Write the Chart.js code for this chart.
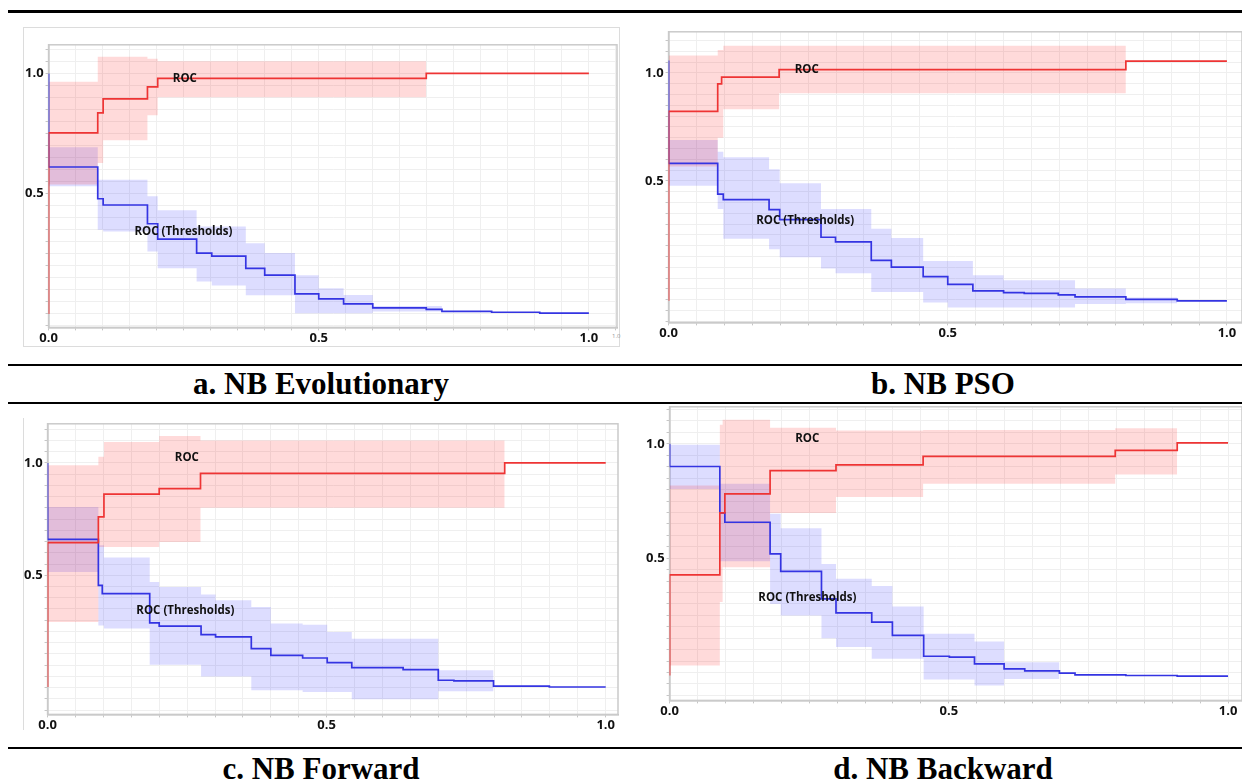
<!DOCTYPE html>
<html>
<head>
<meta charset="utf-8">
<script src="https://cdn.jsdelivr.net/npm/chart.js@4/dist/chart.umd.min.js"></script>
<style>
html,body{margin:0;padding:0;background:#fff;}
body{position:relative;width:1242px;height:784px;overflow:hidden;}
.hl{position:absolute;background:#000;}
.cap{position:absolute;font-family:"Liberation Serif","Times New Roman",serif;font-weight:bold;font-size:31px;line-height:31px;white-space:nowrap;transform:translateX(-50%);color:#000;}
canvas{position:absolute;}
.frame{position:absolute;border:1.5px solid #dcdcdc;box-sizing:border-box;}
.tiny{position:absolute;font-family:"Open Sans",sans-serif;font-size:6px;color:#999;}
</style>
</head>
<body>
<div class="hl" style="left:8px;top:10px;width:1234px;height:2.5px"></div>
<div class="hl" style="left:8px;top:363.5px;width:1234px;height:2.7px"></div>
<div class="hl" style="left:8px;top:402px;width:1234px;height:2.2px"></div>
<div class="hl" style="left:8px;top:747px;width:1234px;height:2.4px"></div>

<div class="frame" style="left:22.5px;top:26.5px;width:597px;height:320.5px"></div>
<div style="position:absolute;left:22.5px;top:418px;width:1.5px;height:312px;background:#dcdcdc"></div>
<div class="tiny" style="left:612px;top:332px">1.0</div>

<div class="cap" style="left:321px;top:367.5px">a. NB Evolutionary</div>
<div class="cap" style="left:943px;top:367.5px">b. NB PSO</div>
<div class="cap" style="left:321px;top:753px">c. NB Forward</div>
<div class="cap" style="left:943px;top:753px">d. NB Backward</div>

<script>
// ---------- tick labels ----------
const xTickValues = [0, 0.5, 1.0];
const xTickLabels = ['0.0', '0.5', '1.0'];
const yTickValues = [0.5, 1.0];
const yTickLabels = ['0.5', '1.0'];
const curveLabels = ['ROC', 'ROC (Thresholds)'];

// ---------- a. NB Evolutionary ----------
const aRocX = [0, 0, 0.091, 0.101, 0.183, 0.202, 0.699, 1.0];
const aRocY = [0.0, 0.753, 0.836, 0.894, 0.944, 0.979, 1.0, 1.0];
const aThrX = [0, 0, 0.091, 0.101, 0.183, 0.202, 0.274, 0.302, 0.365, 0.400, 0.456, 0.500, 0.546, 0.600, 0.699, 0.728, 0.820, 0.909, 1.0];
const aThrY = [1.0, 0.611, 0.479, 0.453, 0.375, 0.311, 0.253, 0.240, 0.189, 0.161, 0.083, 0.063, 0.042, 0.025, 0.019, 0.011, 0.007, 0.003, 0.003];
const aRocBandX = [0, 0.091, 0.101, 0.183, 0.202, 0.699];
const aRocBandHi = [0.965, 1.069, 1.069, 1.061, 1.051, 1.051];
const aRocBandLo = [0.538, 0.628, 0.722, 0.826, 0.901, 0.901];
const aThrBandX = [0, 0.091, 0.101, 0.183, 0.202, 0.274, 0.302, 0.365, 0.400, 0.456, 0.500, 0.546, 0.600, 0.728];
const aThrBandHi = [0.693, 0.558, 0.558, 0.489, 0.431, 0.364, 0.364, 0.294, 0.253, 0.161, 0.107, 0.079, 0.033, 0.033];
const aThrBandLo = [0.531, 0.350, 0.343, 0.260, 0.190, 0.135, 0.118, 0.078, 0.078, 0.003, 0.003, 0.003, 0.010, 0.010];
const aLabelX = [0.230, 0.159];
const aLabelY = [0.978, 0.343];

// ---------- b. NB PSO ----------
const bRocX = [0, 0, 0.088, 0.095, 0.198, 0.819, 1.0];
const bRocY = [-0.055, 0.822, 0.949, 0.980, 1.015, 1.054, 1.054];
const bThrX = [0, 0, 0.088, 0.098, 0.180, 0.199, 0.273, 0.299, 0.363, 0.399, 0.456, 0.500, 0.545, 0.600, 0.637, 0.698, 0.728, 0.819, 0.911, 1.0];
const bThrY = [1.057, 0.581, 0.439, 0.413, 0.367, 0.321, 0.239, 0.218, 0.132, 0.101, 0.057, 0.021, -0.009, -0.017, -0.021, -0.028, -0.037, -0.048, -0.055, -0.055];
const bRocBandX = [0, 0.088, 0.098, 0.198, 0.819];
const bRocBandHi = [1.080, 1.106, 1.126, 1.126, 1.126];
const bRocBandLo = [0.566, 0.700, 0.831, 0.906, 0.906];
const bThrBandX = [0, 0.088, 0.098, 0.180, 0.199, 0.273, 0.299, 0.363, 0.399, 0.456, 0.500, 0.545, 0.600, 0.728, 0.819, 0.911];
const bThrBandHi = [0.689, 0.635, 0.609, 0.554, 0.489, 0.370, 0.370, 0.278, 0.236, 0.129, 0.129, 0.063, 0.040, 0.002, -0.040, -0.040];
const bThrBandLo = [0.477, 0.370, 0.232, 0.183, 0.147, 0.094, 0.072, -0.014, -0.014, -0.063, -0.086, -0.086, -0.086, -0.070, -0.066, -0.066];
const bLabelX = [0.226, 0.157];
const bLabelY = [1.013, 0.317];

// ---------- c. NB Forward ----------
const cRocX = [0, 0, 0.091, 0.101, 0.200, 0.274, 0.819, 1.0];
const cRocY = [0.003, 0.645, 0.760, 0.861, 0.886, 0.953, 1.0, 1.0];
const cThrX = [0, 0, 0.091, 0.098, 0.183, 0.200, 0.275, 0.301, 0.365, 0.400, 0.457, 0.501, 0.545, 0.637, 0.700, 0.728, 0.799, 0.899, 1.0];
const cThrY = [1.0, 0.660, 0.455, 0.418, 0.288, 0.274, 0.236, 0.226, 0.174, 0.144, 0.132, 0.111, 0.089, 0.080, 0.033, 0.030, 0.007, 0.003, 0.003];
const cRocBandX = [0, 0.091, 0.101, 0.200, 0.274, 0.819];
const cRocBandHi = [0.990, 1.027, 1.093, 1.120, 1.100, 1.100];
const cRocBandLo = [0.292, 0.626, 0.626, 0.648, 0.800, 0.800];
const cThrBandX = [0, 0.091, 0.101, 0.183, 0.200, 0.275, 0.301, 0.365, 0.400, 0.457, 0.501, 0.545, 0.700, 0.799];
const cThrBandHi = [0.804, 0.634, 0.579, 0.470, 0.448, 0.414, 0.389, 0.359, 0.285, 0.280, 0.248, 0.218, 0.077, 0.077];
const cThrBandLo = [0.515, 0.277, 0.263, 0.102, 0.102, 0.050, 0.050, -0.012, -0.012, -0.019, -0.019, -0.052, -0.016, -0.016];
const cLabelX = [0.228, 0.159];
const cLabelY = [1.022, 0.344];

// ---------- d. NB Backward ----------
const dRocX = [0, 0, 0.090, 0.099, 0.180, 0.298, 0.454, 0.798, 0.909, 1.0];
const dRocY = [-0.013, 0.427, 0.698, 0.781, 0.883, 0.908, 0.945, 0.971, 1.004, 1.004];
const dThrX = [0, 0, 0.090, 0.099, 0.180, 0.199, 0.272, 0.298, 0.362, 0.399, 0.455, 0.501, 0.546, 0.599, 0.636, 0.698, 0.726, 0.817, 0.909, 1.0];
const dThrY = [1.0, 0.901, 0.698, 0.657, 0.519, 0.442, 0.322, 0.261, 0.220, 0.162, 0.071, 0.067, 0.038, 0.016, 0.007, -0.003, -0.010, -0.013, -0.016, -0.016];
const dRocBandX = [0, 0.090, 0.095, 0.180, 0.298, 0.454, 0.798, 0.909];
const dRocBandHi = [0.818, 1.083, 1.105, 1.070, 1.058, 1.061, 1.068, 1.068];
const dRocBandLo = [0.031, 0.308, 0.460, 0.698, 0.767, 0.825, 0.866, 0.866];
const dThrBandX = [0, 0.090, 0.180, 0.199, 0.272, 0.298, 0.362, 0.399, 0.455, 0.546, 0.599, 0.698];
const dThrBandHi = [0.996, 0.825, 0.694, 0.631, 0.475, 0.410, 0.378, 0.289, 0.169, 0.136, 0.045, 0.045];
const dThrBandLo = [0.803, 0.487, 0.300, 0.249, 0.150, 0.111, 0.060, 0.060, -0.031, -0.057, -0.028, -0.028];
const dLabelX = [0.225, 0.159];
const dLabelY = [1.024, 0.329];

// ---------- page layout of each plot area (pixels) and axis ranges ----------
const layoutA = {L:49, R:617, T:45, B:327.7, xmax:1.052, ymin:-0.056, ymax:1.119};
const layoutB = {L:669, R:1242, T:31.7, B:322.7, xmax:1.027, ymin:-0.155, ymax:1.190};
const layoutC = {L:47.5, R:618, T:423.5, B:714, xmax:1.022, ymin:-0.119, ymax:1.174};
const layoutD = {L:670, R:1242, T:406.7, B:700, xmax:1.025, ymin:-0.122, ymax:1.162};

function pts(xs, ys) { return xs.map((x, i) => ({x: x, y: ys[i]})); }
function tickText(v, vals, labels) {
  const i = vals.findIndex(t => Math.abs(t - v) < 1e-6);
  return i >= 0 ? labels[i] : '';
}

const framePlugin = {
  id: 'plotFrame',
  beforeDatasetsDraw(chart) {
    const {ctx, chartArea: a} = chart;
    ctx.save();
    ctx.strokeStyle = '#cacaca';
    ctx.lineWidth = 1.5;
    ctx.strokeRect(a.left, a.top, a.right - a.left, a.bottom - a.top);
    ctx.restore();
  }
};
const labelPlugin = {
  id: 'curveLabels',
  afterDatasetsDraw(chart, args, opts) {
    const ctx = chart.ctx;
    ctx.save();
    ctx.font = 'bold 11.5px "Open Sans", sans-serif';
    ctx.fillStyle = '#111';
    ctx.textAlign = 'left';
    ctx.textBaseline = 'middle';
    opts.texts.forEach((t, i) => {
      ctx.fillText(t, chart.scales.x.getPixelForValue(opts.xs[i]), chart.scales.y.getPixelForValue(opts.ys[i]));
    });
    ctx.restore();
  }
};

function makeConfig(p, lay) {
  const red = '#ee3434', blue = '#3434e2';
  const none = 'rgba(0,0,0,0)';
  const bandRed = 'rgba(255,0,0,0.145)', bandBlue = 'rgba(20,20,255,0.145)';
  const tickFont = {family: '"Open Sans", sans-serif', size: 13, weight: 'bold'};
  const grid = {color: '#efefef', lineWidth: 1, tickColor: '#c6c6c6', tickLength: 3, drawTicks: true};
  const border = {display: true, color: '#b9b9b9', width: 1.5};
  const line = (xs, ys, color, w) => ({data: pts(xs, ys), borderColor: color, borderWidth: w, stepped: 'before', pointRadius: 0, fill: false});
  return {
    type: 'line',
    data: {datasets: [
      line(p.rocX, p.rocY, red, 1.7),
      line(p.thrX, p.thrY, blue, 1.7),
      line(p.rocBandX, p.rocBandHi, none, 0),
      Object.assign(line(p.rocBandX, p.rocBandLo, none, 0), {fill: '-1', backgroundColor: bandRed}),
      line(p.thrBandX, p.thrBandHi, none, 0),
      Object.assign(line(p.thrBandX, p.thrBandLo, none, 0), {fill: '-1', backgroundColor: bandBlue})
    ]},
    options: {
      responsive: false, animation: false, events: [],
      layout: {padding: {top: 2, right: 2, left: 0, bottom: 0}},
      plugins: {
        legend: {display: false}, tooltip: {enabled: false},
        curveLabels: {texts: curveLabels, xs: p.labelX, ys: p.labelY}
      },
      scales: {
        x: {type: 'linear', min: 0, max: lay.xmax, grid: grid, border: border,
            ticks: {stepSize: 0.05, includeBounds: false, autoSkip: false, maxRotation: 0, minRotation: 0, padding: 0,
                    color: '#111', font: tickFont, callback: v => tickText(v, xTickValues, xTickLabels)}},
        y: {type: 'linear', min: lay.ymin, max: lay.ymax, grid: grid, border: border,
            ticks: {stepSize: 0.05, includeBounds: false, autoSkip: false, padding: 2,
                    color: '#111', font: tickFont, callback: v => tickText(v, yTickValues, yTickLabels)}}
      }
    },
    plugins: [framePlugin, labelPlugin]
  };
}

function place(p, lay) {
  const PW = 800, PH = 400;
  const probe = document.createElement('canvas');
  probe.width = PW; probe.height = PH;
  probe.style.left = '0px'; probe.style.top = '0px';
  document.body.appendChild(probe);
  const c1 = new Chart(probe, makeConfig(p, lay));
  const a = c1.chartArea;
  const ml = a.left, mt = a.top, mr = PW - a.right, mb = PH - a.bottom;
  c1.destroy(); probe.remove();
  const left = Math.round(lay.L - ml), top = Math.round(lay.T - mt);
  const W = Math.round(lay.R - (left + ml) + ml + mr), H = Math.round(lay.B - (top + mt) + mt + mb);
  const cv = document.createElement('canvas');
  cv.width = W; cv.height = H;
  cv.style.left = left + 'px'; cv.style.top = top + 'px';
  document.body.appendChild(cv);
  new Chart(cv, makeConfig(p, lay));
}

place({rocX: aRocX, rocY: aRocY, thrX: aThrX, thrY: aThrY, rocBandX: aRocBandX, rocBandHi: aRocBandHi, rocBandLo: aRocBandLo,
       thrBandX: aThrBandX, thrBandHi: aThrBandHi, thrBandLo: aThrBandLo, labelX: aLabelX, labelY: aLabelY}, layoutA);
place({rocX: bRocX, rocY: bRocY, thrX: bThrX, thrY: bThrY, rocBandX: bRocBandX, rocBandHi: bRocBandHi, rocBandLo: bRocBandLo,
       thrBandX: bThrBandX, thrBandHi: bThrBandHi, thrBandLo: bThrBandLo, labelX: bLabelX, labelY: bLabelY}, layoutB);
place({rocX: cRocX, rocY: cRocY, thrX: cThrX, thrY: cThrY, rocBandX: cRocBandX, rocBandHi: cRocBandHi, rocBandLo: cRocBandLo,
       thrBandX: cThrBandX, thrBandHi: cThrBandHi, thrBandLo: cThrBandLo, labelX: cLabelX, labelY: cLabelY}, layoutC);
place({rocX: dRocX, rocY: dRocY, thrX: dThrX, thrY: dThrY, rocBandX: dRocBandX, rocBandHi: dRocBandHi, rocBandLo: dRocBandLo,
       thrBandX: dThrBandX, thrBandHi: dThrBandHi, thrBandLo: dThrBandLo, labelX: dLabelX, labelY: dLabelY}, layoutD);
</script>
</body>
</html>
